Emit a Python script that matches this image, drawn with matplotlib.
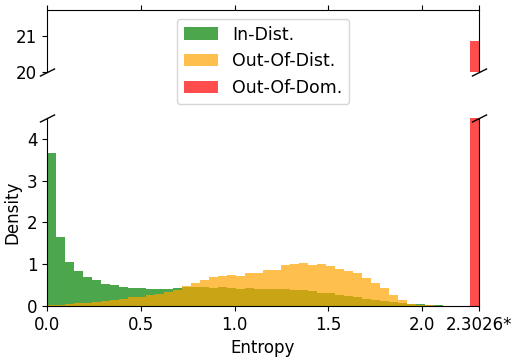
import numpy as np
import matplotlib
matplotlib.use("Agg")
import matplotlib.pyplot as plt

# ---- data (density per bin, 48 bins over [0, ln 10]) ----
x_max = 2.3026
n_bins = 48
in_dist = [3.66, 1.64, 1.06, 0.84, 0.70, 0.63, 0.53, 0.51, 0.46, 0.43,
           0.43, 0.41, 0.41, 0.41, 0.43, 0.46, 0.46, 0.46, 0.43, 0.46,
           0.43, 0.41, 0.43, 0.41, 0.41, 0.41, 0.41, 0.39, 0.39, 0.36,
           0.31, 0.31, 0.27, 0.24, 0.22, 0.17, 0.14, 0.12, 0.10, 0.07,
           0.05, 0.05, 0.02, 0.02, 0.0, 0.0, 0.0, 0.0]
out_of_dist = [0.02, 0.02, 0.05, 0.07, 0.07, 0.10, 0.12, 0.14, 0.17, 0.22,
               0.22, 0.27, 0.29, 0.34, 0.39, 0.47, 0.55, 0.63, 0.70, 0.72,
               0.75, 0.72, 0.80, 0.80, 0.87, 0.87, 0.99, 1.01, 1.04, 0.99,
               1.01, 0.96, 0.89, 0.84, 0.80, 0.67, 0.55, 0.43, 0.27, 0.14,
               0.05, 0.02, 0.02, 0.01, 0.0, 0.0, 0.0, 0.0]
out_of_dom = [0.0] * 47 + [20.84]
labels = ["In-Dist.", "Out-Of-Dist.", "Out-Of-Dom."]
colors = ["green", "orange", "red"]
xtick_vals = [0.0, 0.5, 1.0, 1.5, 2.0, 2.3026]
xtick_labels = ["0.0", "0.5", "1.0", "1.5", "2.0", "2.3026*"]

edges = np.linspace(0, x_max, n_bins + 1)
centers = (edges[:-1] + edges[1:]) / 2

plt.rcParams["font.size"] = 12
fig = plt.figure(figsize=(5.2, 3.6), dpi=100)
ax1 = fig.add_axes([47 / 520, 1 - 72 / 360, 432 / 520, 62 / 360])
ax2 = fig.add_axes([47 / 520, 1 - 306 / 360, 432 / 520, 188 / 360])

for ax in (ax1, ax2):
    for series, lab, col in zip([in_dist, out_of_dist, out_of_dom], labels, colors):
        ax.hist(centers, bins=edges, weights=series, color=col, alpha=0.7, label=lab)
    ax.set_xlim(0, x_max)
    ax.set_xticks(xtick_vals)

ax1.set_ylim(20, 21.7)
ax1.set_yticks([20, 21])
ax2.set_ylim(0, 4.5)
ax2.set_yticks([0, 1, 2, 3, 4])

ax1.spines["bottom"].set_visible(False)
ax2.spines["top"].set_visible(False)
ax1.xaxis.tick_top()
ax1.tick_params(labeltop=False)
ax2.xaxis.tick_bottom()
ax2.set_xticklabels(xtick_labels)

ax2.set_xlabel("Entropy")
ax2.set_ylabel("Density")

d = 0.5
kw = dict(marker=[(-1, -d), (1, d)], markersize=11, linestyle="none",
          color="k", mec="k", mew=1, clip_on=False)
ax1.plot([0, 1], [0, 0], transform=ax1.transAxes, **kw)
ax2.plot([0, 1], [1, 1], transform=ax2.transAxes, **kw)

ax1.legend(loc="upper center", fontsize=12.5)

fig.savefig("out.png", dpi=100)
